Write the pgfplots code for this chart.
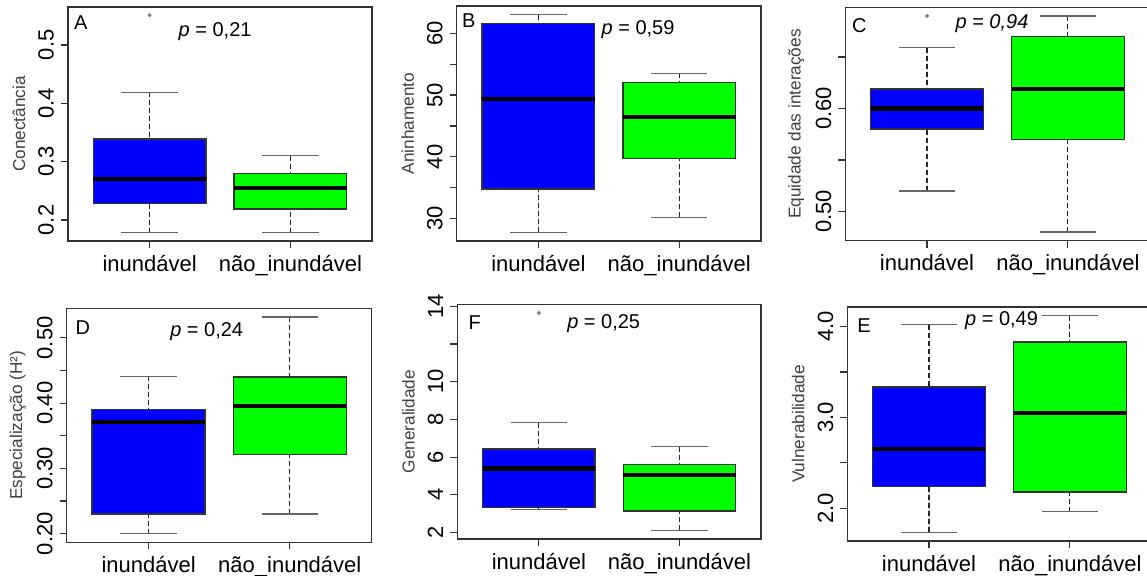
\documentclass[border=0pt]{standalone}
\usepackage{fontspec}
\setmainfont{Liberation Sans}
\usepackage{pgfplots}
\pgfplotsset{compat=1.18}
\usepgfplotslibrary{statistics}
\definecolor{boxblue}{RGB}{0,0,255}
\definecolor{boxgreen}{RGB}{0,255,0}
\definecolor{lblgray}{RGB}{64,64,64}
\pgfplotsset{
  rpanel/.style={
    scale only axis,
    xmin=0.42, xmax=2.58,
    xtick={1,2}, xticklabels={inundável,não\_inundável},
    tick align=outside, tick pos=left,
    major tick length=3.5pt,
    axis line style={draw=black!80, line width=0.6pt},
    every tick/.style={draw=black!80, line width=0.6pt},
    tick label style={font=\fontsize{11}{13}\selectfont},
    yticklabel style={rotate=90, anchor=south},
    ylabel style={at={(axis description cs:-0.161,0.5)}, anchor=center, font=\fontsize{8.6}{10}\selectfont, text=lblgray},
    clip=false,
  },
  rbox/.style={
    draw=black!80, line width=0.7pt,
    mark=*, mark size=0.6pt, mark options={draw=gray, fill=gray, solid},
    boxplot/draw direction=y,
    boxplot/box extend=0.8,
    boxplot/whisker extend=0.4,
    boxplot/draw/median/.code={%
      \draw[draw=black, line width=2.1pt]
        (boxplot box cs:\pgfplotsboxplotvalue{median},0) -- (boxplot box cs:\pgfplotsboxplotvalue{median},1);
    },
    boxplot/draw/lower whisker/.code={%
      \draw[draw=black!85, line width=0.6pt, dash pattern=on 2.5pt off 1.5pt]
        (boxplot box cs:\pgfplotsboxplotvalue{lower whisker},0.5) -- (boxplot box cs:\pgfplotsboxplotvalue{lower quartile},0.5);
      \draw[draw=black!60, line width=0.65pt, solid]
        (boxplot whisker cs:\pgfplotsboxplotvalue{lower whisker},0) -- (boxplot whisker cs:\pgfplotsboxplotvalue{lower whisker},1);
    },
    boxplot/draw/upper whisker/.code={%
      \draw[draw=black!85, line width=0.6pt, dash pattern=on 2.5pt off 1.5pt]
        (boxplot box cs:\pgfplotsboxplotvalue{upper whisker},0.5) -- (boxplot box cs:\pgfplotsboxplotvalue{upper quartile},0.5);
      \draw[draw=black!60, line width=0.65pt, solid]
        (boxplot whisker cs:\pgfplotsboxplotvalue{upper whisker},0) -- (boxplot whisker cs:\pgfplotsboxplotvalue{upper whisker},1);
    },
  },
}
\begin{document}
\begin{tikzpicture}
\useasboundingbox (0,0) rectangle (573.5pt,288pt);
\clip (0,0) rectangle (573.5pt,288pt);
% ---------- A ----------
\begin{axis}[rpanel, at={(34pt,167.5pt)}, anchor=south west, width=152pt, height=117pt,
  ymin=0.164, ymax=0.565, ytick={0.2,0.3,0.4,0.5}, yticklabels={0.2,0.3,0.4,0.5},
  ylabel={Conectância}]
\addplot[rbox, fill=boxblue, boxplot prepared={draw position=1, lower whisker=0.178, lower quartile=0.2285, median=0.270, upper quartile=0.339, upper whisker=0.419}] coordinates {(1,0.551)};
\addplot[rbox, fill=boxgreen, boxplot prepared={draw position=2, lower whisker=0.178, lower quartile=0.219, median=0.255, upper quartile=0.2795, upper whisker=0.310}] coordinates {};
\node at (rel axis cs:0.042,0.934) {A};
\node at (rel axis cs:0.484,0.894) {\textit{p} = 0,21};
\end{axis}
% ---------- B ----------
\begin{axis}[rpanel, at={(228.35pt,167.5pt)}, anchor=south west, width=152.15pt, height=117.5pt,
  ymin=26.4, ymax=64.4, ytick={30,35,40,45,50,55,60}, yticklabels={30,,40,,50,,60},
  ylabel={Aninhamento}]
\addplot[rbox, fill=boxblue, boxplot prepared={draw position=1, lower whisker=27.8, lower quartile=34.8, median=49.4, upper quartile=61.6, upper whisker=63.0}] coordinates {};
\addplot[rbox, fill=boxgreen, boxplot prepared={draw position=2, lower whisker=30.2, lower quartile=39.7, median=46.5, upper quartile=52.0, upper whisker=53.5}] coordinates {};
\node at (rel axis cs:0.040,0.937) {B};
\node at (rel axis cs:0.596,0.898) {\textit{p} = 0,59};
\end{axis}
% ---------- C ----------
\begin{axis}[rpanel, at={(422.65pt,167.65pt)}, anchor=south west, width=152.15pt, height=116.7pt,
  ymin=0.4716, ymax=0.6984, ytick={0.50,0.55,0.60,0.65}, yticklabels={0.50,,0.60,},
  ylabel={Equidade das interações}]
\addplot[rbox, fill=boxblue, boxplot prepared={draw position=1, lower whisker=0.520, lower quartile=0.580, median=0.600, upper quartile=0.619, upper whisker=0.659}] coordinates {(1,0.690)};
\addplot[rbox, fill=boxgreen, boxplot prepared={draw position=2, lower whisker=0.480, lower quartile=0.570, median=0.619, upper quartile=0.670, upper whisker=0.690}] coordinates {};
\node at (rel axis cs:0.046,0.921) {C};
\node at (rel axis cs:0.482,0.931) {\textit{p = 0,94}};
\end{axis}
% ---------- D ----------
\begin{axis}[rpanel, at={(33.35pt,16.85pt)}, anchor=south west, width=152.5pt, height=117pt,
  ymin=0.1867, ymax=0.5453, ytick={0.20,0.25,0.30,0.35,0.40,0.45,0.50}, yticklabels={0.20,,0.30,,0.40,,0.50},
  ylabel={Especialização (H²)}]
\addplot[rbox, fill=boxblue, boxplot prepared={draw position=1, lower whisker=0.200, lower quartile=0.230, median=0.3716, upper quartile=0.390, upper whisker=0.441}] coordinates {};
\addplot[rbox, fill=boxgreen, boxplot prepared={draw position=2, lower whisker=0.230, lower quartile=0.321, median=0.3957, upper quartile=0.440, upper whisker=0.532}] coordinates {};
\node at (rel axis cs:0.053,0.919) {D};
\node at (rel axis cs:0.459,0.901) {\textit{p} = 0,24};
\end{axis}
% ---------- F ----------
\begin{axis}[rpanel, at={(228.65pt,18.5pt)}, anchor=south west, width=151.85pt, height=117.35pt,
  ymin=1.66, ymax=14.1, ytick={2,4,6,8,10,12,14}, yticklabels={2,4,6,8,10,,14},
  ylabel={Generalidade}]
\addplot[rbox, fill=boxblue, boxplot prepared={draw position=1, lower whisker=3.21, lower quartile=3.33, median=5.40, upper quartile=6.43, upper whisker=7.83}] coordinates {(1,13.64)};
\addplot[rbox, fill=boxgreen, boxplot prepared={draw position=2, lower whisker=2.12, lower quartile=3.15, median=5.07, upper quartile=5.61, upper whisker=6.56}] coordinates {};
\node at (rel axis cs:0.057,0.923) {F};
\node at (rel axis cs:0.482,0.919) {\textit{p} = 0,25};
\end{axis}
% ---------- E ----------
\begin{axis}[rpanel, at={(423.65pt,17.5pt)}, anchor=south west, width=152.15pt, height=117pt,
  ymin=1.641, ymax=4.215, ytick={2.0,2.5,3.0,3.5,4.0}, yticklabels={2.0,,3.0,,4.0},
  ylabel={Vulnerabilidade}]
\addplot[rbox, fill=boxblue, boxplot prepared={draw position=1, lower whisker=1.736, lower quartile=2.238, median=2.656, upper quartile=3.333, upper whisker=4.02}] coordinates {};
\addplot[rbox, fill=boxgreen, boxplot prepared={draw position=2, lower whisker=1.964, lower quartile=2.18, median=3.047, upper quartile=3.828, upper whisker=4.12}] coordinates {};
\node at (rel axis cs:0.055,0.921) {E};
\node at (rel axis cs:0.507,0.940) {\textit{p} = 0,49};
\end{axis}
\end{tikzpicture}
\end{document}
